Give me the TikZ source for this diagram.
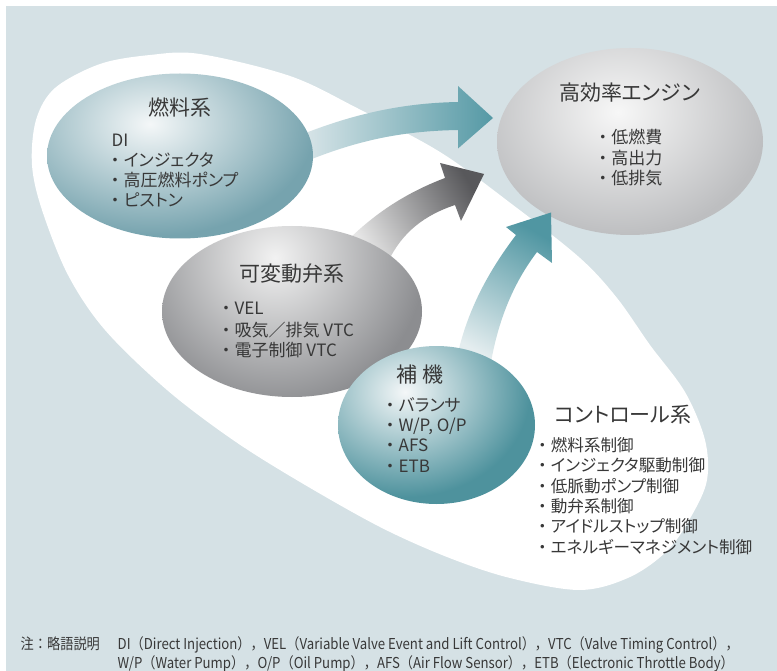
\documentclass[tikz,border=0pt]{standalone}
\usepackage{fontspec}
\setmainfont{Noto Sans CJK JP}[RawFeature=+palt]
\newfontfamily\fwfont{Noto Sans CJK JP}
\newfontfamily\notefont{Noto Sans CJK JP}[FakeStretch=0.88]
\newcommand{\bul}{{\fwfont ・}}
\usetikzlibrary{shapes.geometric}
\definecolor{bg}{HTML}{D5E1E5}
\definecolor{txt}{HTML}{383838}
\definecolor{hiW}{HTML}{F4F7F8}
\definecolor{fuelEdge}{HTML}{76A3AE}
\definecolor{auxEdge}{HTML}{4E929D}
\definecolor{vvHi}{HTML}{F2F2F2}
\definecolor{vvEdge}{HTML}{8C8D90}
\definecolor{engHi}{HTML}{F7F7F7}
\definecolor{engEdge}{HTML}{BDBEC0}
\definecolor{aOneL}{HTML}{DCE7EA}
\definecolor{aOneR}{HTML}{5599A5}
\definecolor{aTwoB}{HTML}{E6E6E6}
\definecolor{aTwoT}{HTML}{58585B}
\definecolor{aThrB}{HTML}{E4EDEF}
\definecolor{aThrT}{HTML}{5096A2}
% radial shadings: outer colour reached at 3/5 of the shaded ellipse's radius
\pgfdeclareradialshading{shFuel}{\pgfpoint{0bp}{0bp}}{color(0bp)=(hiW); color(15bp)=(fuelEdge); color(50bp)=(fuelEdge)}
\pgfdeclareradialshading{shAux}{\pgfpoint{0bp}{0bp}}{color(0bp)=(hiW); color(15bp)=(auxEdge); color(50bp)=(auxEdge)}
\pgfdeclareradialshading{shVV}{\pgfpoint{0bp}{0bp}}{color(0bp)=(vvHi); color(15bp)=(vvEdge); color(50bp)=(vvEdge)}
\pgfdeclareradialshading{shEng}{\pgfpoint{0bp}{0bp}}{color(0bp)=(engHi); color(15bp)=(engEdge); color(50bp)=(engEdge)}
\tikzset{
  blob/.style={ellipse, inner sep=0pt, draw=none},
  ttl/.style={inner sep=0pt, anchor=base, text=txt, font=\fontsize{21}{21}\selectfont},
  itm/.style={inner sep=0pt, anchor=base west, text=txt, font=\fontsize{17}{17}\selectfont},
  citm/.style={itm, font=\fontsize{16.6}{16.6}\selectfont},
  fnote/.style={inner sep=0pt, anchor=base west, text=txt, font=\notefont\fontsize{15}{15}\selectfont},
}
\begin{document}
\begin{tikzpicture}[x=1pt, y=-1pt]
\useasboundingbox (0,0) rectangle (777,671);
\fill[white] (0,0) rectangle (777,671);
\fill[bg] (6,6) rectangle (777,671);
% white region
\fill[white] plot[smooth cycle, tension=0.55] coordinates {
 (200,54) (290,76) (357,108) (440,152) (513,205) (580,258) (617,298)
 (650,345) (685,392) (705,440) (707,480) (692,515) (668,550) (630,577)
 (580,590) (510,578) (447,557) (380,527) (300,482) (233,440) (167,390)
 (105,330) (68,275) (42,210) (32,165) (36,120) (55,88) (100,64) (150,55)};
% engine
\node[blob, minimum width=266pt, minimum height=187pt,
  path picture={\shade[shading=shEng]
    ([shift={(-12pt,29.5pt)}]path picture bounding box.center) ellipse [x radius=250pt, y radius=208pt];}]
  (eng) at (630,141.5) {};
% arrows
\shade[left color=aOneL, right color=aOneR]
  (298,136) .. controls (350,115) and (400,103) .. (458,102) -- (458,86) -- (493,118)
  -- (458,148.5) -- (458,130) .. controls (400,131) and (355,141) .. (302,163) -- cycle;
\shade[top color=aTwoT, bottom color=aTwoB, shading angle=-60]
  (346,242) .. controls (376,212) and (408,192) .. (445,178) -- (440,163) -- (484,174)
  -- (461,221) -- (455,205) .. controls (425,215) and (402,232) .. (388,262) -- cycle;
\shade[top color=aThrT, bottom color=aThrB, shading angle=-30]
  (456,362) .. controls (466,312) and (488,272) .. (516,235) -- (506,227) -- (551,212.5)
  -- (552,263) -- (537,252) .. controls (515,281) and (498,318) .. (490,368) -- cycle;
% source blobs
\node[blob, minimum width=266pt, minimum height=165pt,
  path picture={\shade[shading=shFuel]
    ([shift={(-30pt,32pt)}]path picture bounding box.center) ellipse [x radius=275pt, y radius=187pt];}]
  (fuel) at (180,156) {};
\node[blob, minimum width=260pt, minimum height=171pt,
  path picture={\shade[shading=shVV]
    ([shift={(-17pt,53.5pt)}]path picture bounding box.center) ellipse [x radius=250pt, y radius=250pt];}]
  (vv) at (292,311.5) {};
\node[blob, minimum width=197pt, minimum height=158pt,
  path picture={\shade[shading=shAux]
    ([shift={(-31.5pt,33pt)}]path picture bounding box.center) ellipse [x radius=208pt, y radius=175pt];}]
  (aux) at (436.5,425) {};
% texts
\node[ttl] (fuelT) at (179.5,116) {燃料系};
\node[itm] (f0) at (111.5,147) {DI};
\node[itm] (f1) at (106.5,167) {\bul インジェクタ};
\node[itm] (f2) at (106.5,187) {\bul 高圧燃料ポンプ};
\node[itm] (f3) at (106.5,207) {\bul ピストン};
\node[ttl] (engT) at (629.5,100.5) {高効率エンジン};
\node[itm] (e1) at (594.2,144) {\bul 低燃費};
\node[itm] (e2) at (594.2,164.5) {\bul 高出力};
\node[itm] (e3) at (594.2,185) {\bul 低排気};
\node[ttl] (vvT) at (292,282) {可変動弁系};
\node[itm] (v1) at (217.5,315) {\bul VEL};
\node[itm] (v2) at (217.5,336) {\bul 吸気／排気 VTC};
\node[itm] (v3) at (217.5,356) {\bul 電子制御 VTC};
\node[ttl] (auxT) at (420,382) {補 機};
\node[itm] (x1) at (381.5,411) {\bul バランサ};
\node[itm] (x2) at (381.5,431) {\bul W/P, O/P};
\node[itm] (x3) at (381.5,451.5) {\bul AFS};
\node[itm] (x4) at (381.5,472) {\bul ETB};
\node[ttl] (ctlT) at (623,422) {コントロール系};
\node[citm] (c1) at (534,451) {\bul 燃料系制御};
\node[citm] (c2) at (534,471) {\bul インジェクタ駆動制御};
\node[citm] (c3) at (534,492) {\bul 低脈動ポンプ制御};
\node[citm] (c4) at (534,512) {\bul 動弁系制御};
\node[citm] (c5) at (534,532.5) {\bul アイドルストップ制御};
\node[citm] (c6) at (534,553) {\bul エネルギーマネジメント制御};
% footnote
\node[fnote] (n0) at (20.5,649.5) {注：略語説明};
\node[fnote] (n1) at (117.5,649.5) {DI（Direct Injection），VEL（Variable Valve Event and Lift Control），VTC（Valve Timing Control），};
\node[fnote] (n2) at (117.5,668) {W/P（Water Pump），O/P（Oil Pump），AFS（Air Flow Sensor），ETB（Electronic Throttle Body）};
\end{tikzpicture}
\end{document}
